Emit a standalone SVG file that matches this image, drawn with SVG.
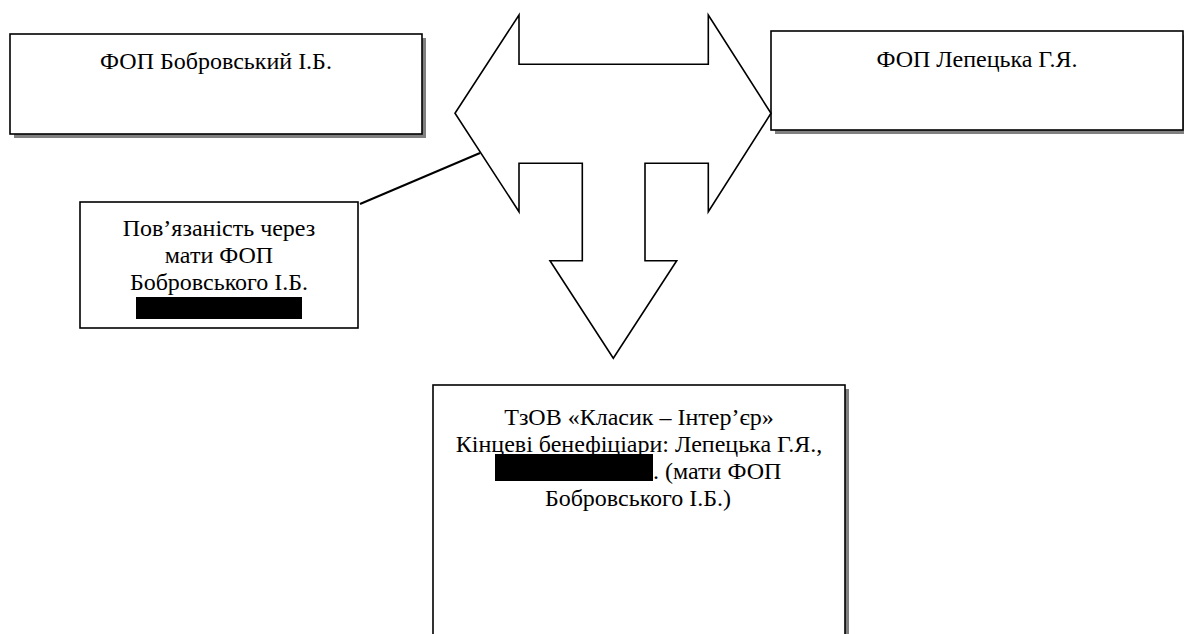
<svg xmlns="http://www.w3.org/2000/svg" width="1184" height="634" viewBox="0 0 1184 634">
<style>
.box{fill:#fff;stroke:#000;stroke-width:1.6}
.shadow{fill:#808080}
.t{font-family:"Liberation Serif","Times New Roman",serif;font-size:24px;fill:#000;text-anchor:middle}
.ts{font-family:"Liberation Serif","Times New Roman",serif;font-size:24px;fill:#000;text-anchor:start}
.red{fill:#000}
.conn{fill:none;stroke:#000;stroke-width:2}
.arrow{fill:#fff;stroke:#000;stroke-width:1.6;stroke-linejoin:miter}
</style>
<rect width="1184" height="634" fill="#fff"/>
<g id="node-bobrovsky">
<rect class="shadow" x="14" y="38" width="412" height="100"/>
<rect class="box" x="10" y="34" width="412" height="100"/>
<text class="t" x="216" y="69">ФОП Бобровський І.Б.</text>
</g>
<g id="node-lepetska">
<rect class="shadow" x="775" y="35" width="412" height="99"/>
<rect class="box" x="771" y="31" width="412" height="99"/>
<text class="t" x="977" y="67">ФОП Лепецька Г.Я.</text>
</g>
<g id="connectors">
<path class="arrow" d="M455,113.3 L519,15 L519,64.3 L708.3,64.3 L708.3,15 L771,113.3 L708.3,211.7 L708.3,163.3 L645,163.3 L645,260.7 L676.7,260.7 L613.3,358.3 L550,260.7 L582.3,260.7 L582.3,163.3 L519,163.3 L519,211.7 Z"/>
<line class="conn" x1="360" y1="204" x2="480" y2="153"/>
</g>
<g id="node-link">
<rect class="box" x="80" y="202" width="278" height="126"/>
<rect class="red" x="136" y="297" width="166" height="22"/>
<text class="t" x="219" y="236">Пов’язаність через</text>
<text class="t" x="219" y="263">мати ФОП</text>
<text class="t" x="219" y="290">Бобровського І.Б.</text>
</g>
<g id="node-tzov">
<rect class="shadow" x="437" y="389" width="412" height="260"/>
<rect class="box" x="433" y="385" width="412" height="260"/>
<rect class="red" x="495" y="454" width="158" height="27"/>
<text class="t" x="639" y="425">ТзОВ «Класик – Інтер’єр»</text>
<text class="t" x="639" y="452">Кінцеві бенефіціари: Лепецька Г.Я.,</text>
<text class="ts" x="653" y="479">. (мати ФОП</text>
<text class="t" x="638" y="506">Бобровського І.Б.)</text>
</g>
</svg>
